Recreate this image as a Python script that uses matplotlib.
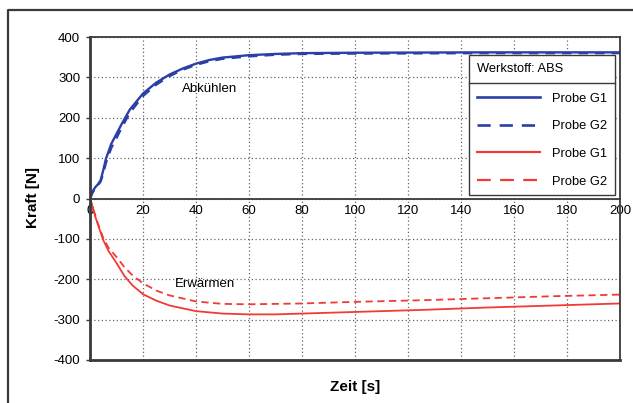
import matplotlib
matplotlib.use("Agg")
import matplotlib.pyplot as plt
from matplotlib.lines import Line2D

plt.rcParams['font.family'] = ['Liberation Sans', 'DejaVu Sans']
plt.rcParams['axes.unicode_minus'] = False

# --- data ---
t_blue = [0, 1, 2, 3, 4, 5, 6, 8, 10, 12, 15, 20, 25, 30, 35, 40, 45, 50, 60, 70, 80, 100, 150, 200]
blue_g1 = [0, 18, 28, 35, 45, 70, 98, 135, 160, 185, 220, 260, 287, 307, 322, 334, 343, 349, 355, 358, 360, 361, 362, 362]
blue_g2 = [0, 15, 25, 33, 42, 62, 88, 125, 150, 176, 212, 254, 282, 303, 319, 331, 340, 346, 352, 356, 358, 359, 360, 360]

t_red = [0, 1, 2, 3, 5, 7, 10, 13, 16, 20, 25, 30, 40, 50, 60, 70, 80, 100, 125, 150, 175, 200]
red_g1 = [0, -22, -45, -65, -103, -130, -160, -192, -215, -237, -253, -265, -279, -285, -287, -287, -285, -281, -276, -270, -265, -260]
red_g2 = [0, -20, -42, -62, -98, -122, -145, -170, -190, -210, -228, -240, -255, -261, -262, -261, -260, -256, -252, -247, -242, -238]

x_ticks = [0, 20, 40, 60, 80, 100, 120, 140, 160, 180, 200]
y_ticks = [-400, -300, -200, -100, 0, 100, 200, 300, 400]
labels = ["Probe G1", "Probe G2", "Probe G1", "Probe G2"]
legend_title = "Werkstoff: ABS"

BLUE = '#2b3fa6'
RED = '#f23a35'
DARK = '#3a3a3a'

fig = plt.figure(figsize=(6.33, 4.03), dpi=100)
ax = fig.add_axes([90/633, 1-360/403, 530/633, 323/403])

ax.plot(t_blue, blue_g1, color=BLUE, lw=1.7)
ax.plot(t_blue, blue_g2, color=BLUE, lw=1.7, ls=(0, (4, 3)))
ax.plot(t_red, red_g1, color=RED, lw=1.3)
ax.plot(t_red, red_g2, color=RED, lw=1.3, ls=(0, (4, 2.5)))

ax.set_xlim(0, 200)
ax.set_ylim(-400, 400)
ax.set_xticks(x_ticks)
ax.set_yticks(y_ticks)
ax.grid(True, color='#666666', ls=(0, (1, 2)), lw=0.9)
ax.set_axisbelow(True)

for s in ['top', 'right', 'left']:
    ax.spines[s].set_color(DARK)
ax.spines['left'].set_linewidth(2.0)
ax.spines['top'].set_linewidth(1.3)
ax.spines['right'].set_linewidth(1.3)
ax.spines['bottom'].set_position(('data', 0))
ax.spines['bottom'].set_color(DARK)
ax.spines['bottom'].set_linewidth(1.3)
ax.axhline(-400, color=DARK, lw=2.0, clip_on=False, zorder=5)

ax.tick_params(axis='x', length=0, pad=5, labelsize=9.5, colors='black')
ax.tick_params(axis='y', length=3, width=1, pad=4, labelsize=9.5, colors='black')
ax.tick_params(axis='y', color=DARK)

ax.text(45, 272, "Abkühlen", ha='center', va='center', fontsize=9.5)
ax.text(43.5, -213, "Erwärmen", ha='center', va='center', fontsize=9.5)

fig.text(33/633, 1-197/403, "Kraft [N]", rotation=90, ha='center', va='center',
         fontsize=11, fontweight='bold')
fig.text(355/633, 1-387/403, "Zeit [s]", ha='center', va='center',
         fontsize=11, fontweight='bold')

handles = [
    Line2D([], [], color=BLUE, lw=1.9),
    Line2D([], [], color=BLUE, lw=1.9, ls=(0, (5, 3.4))),
    Line2D([], [], color=RED, lw=1.6),
    Line2D([], [], color=RED, lw=1.6, ls=(0, (6.2, 4.2))),
]
leg = ax.legend(handles, labels, title=legend_title, loc='upper right',
                bbox_to_anchor=(0.9906, 0.944),
                fancybox=False, framealpha=1, edgecolor=DARK, fontsize=9.3,
                title_fontsize=9.3, handlelength=4.9, handletextpad=0.95,
                labelspacing=1.2, borderpad=0.6, borderaxespad=0)
leg.get_frame().set_linewidth(1.0)
leg._legend_box.align = "left"
leg._legend_box.sep = 13

# separator line under legend title
fig.canvas.draw()
r = fig.canvas.get_renderer()
lb = leg.get_window_extent(r)
tb = leg.get_title().get_window_extent(r)
ysep = tb.y0 - 8
inv = fig.transFigure.inverted()
(x0, y0) = inv.transform((lb.x0, ysep))
(x1, _) = inv.transform((lb.x1, ysep))
fig.add_artist(Line2D([x0, x1], [y0, y0], color=DARK, lw=1.0, transform=fig.transFigure, zorder=10))

# outer frame of the figure (left and top)
fig.add_artist(Line2D([8/633, 8/633, 1.0], [0, 1-10/403, 1-10/403], color=DARK, lw=1.6,
                      transform=fig.transFigure))

fig.savefig("out.png", dpi=100)
